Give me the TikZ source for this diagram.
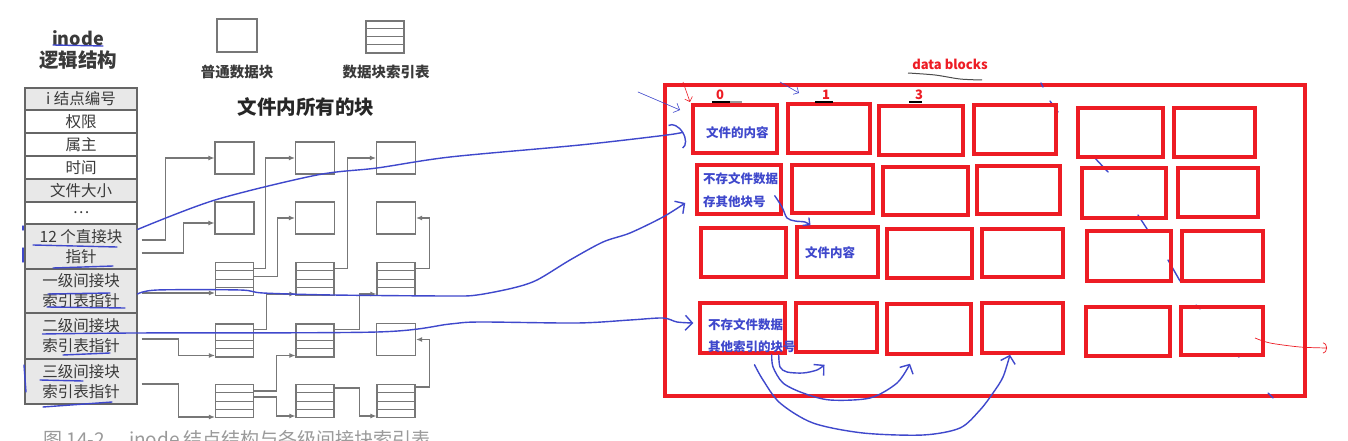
\documentclass[tikz,border=0pt]{standalone}
\usepackage{fontspec}
\setmainfont{Noto Sans CJK SC}
\usetikzlibrary{arrows.meta,calc}
\definecolor{tblline}{HTML}{666666}
\definecolor{tbltext}{HTML}{3A3A3A}
\definecolor{cellgray}{HTML}{E8E8E8}
\definecolor{linkgray}{HTML}{777777}
\definecolor{capgray}{HTML}{9A9A9A}
\definecolor{paintred}{HTML}{ED1C24}
\definecolor{paintblue}{HTML}{3F48CC}
\tikzset{
  cell/.style={draw=tblline,line width=1.1pt,minimum width=112,inner sep=0pt,align=center,
    text=tbltext,font=\fontsize{15.5}{20}\selectfont},
  blk/.style={draw=linkgray,line width=1.2pt,fill=white,minimum width=39,minimum height=32,inner sep=0pt},
  idx/.style={blk,minimum width=38,minimum height=33,
    path picture={\foreach \k in {1,2,3}
      \draw[linkgray,line width=1pt]
        ($(path picture bounding box.north west)!\k/4!(path picture bounding box.south west)$) --
        ($(path picture bounding box.north east)!\k/4!(path picture bounding box.south east)$);}},
  link/.style={draw=linkgray,line width=1.1pt,-{Latex[length=6pt,width=5pt]}},
  lab/.style={text=tbltext,font=\fontsize{14.5}{16}\selectfont\bfseries},
  rbox/.style={draw=paintred,line width=3.5pt,inner sep=0pt},
  ann/.style={draw=paintblue,line width=1.4pt,line cap=round,line join=round},
  annarr/.style={ann,-{Straight Barb[length=7pt,width=15pt]}},
  btxt/.style={text=paintblue,font=\fontsize{12.5}{23}\selectfont\bfseries,inner sep=0pt,anchor=west,align=left},
  numlab/.style={text=paintred,font=\fontsize{13}{15}\selectfont\bfseries,inner sep=0pt},
}
\begin{document}
\begin{tikzpicture}[x=1pt,y=-1pt]
\path[use as bounding box,fill=white] (0,0) rectangle (1348,441);

% inode table
\node[text=tbltext,font=\fontsize{18}{20}\selectfont\bfseries] (inode) at (78,38) {inode};
\node[text=tbltext,font=\fontsize{19.5}{22}\selectfont\bfseries] (logic) at (78,60) {逻辑结构};
\foreach \n/\yc/\h/\c/\t in {
  r1/99/22/cellgray/{i 结点编号},
  r2/121.5/23/white/权限,
  r3/144.5/23/white/属主,
  r4/167.5/23/white/时间,
  r5/190.5/23/cellgray/文件大小,
  r6/213/22/white/{\ldots},
  r7/246.5/45/cellgray/{12 个直接块\\指针},
  r8/291/44/cellgray/{一级间接块\\索引表指针},
  r9/336/46/cellgray/{二级间接块\\索引表指针},
  r10/381.5/45/cellgray/{三级间接块\\索引表指针}}
  \node[cell,fill=\c,minimum height=\h] (\n) at (81,\yc) {\t};

% legend
\node[blk,minimum width=40,minimum height=33] (legblk) at (237,35.5) {};
\node[idx,minimum height=32] (legidx) at (385,37) {};
\node[lab] (leglab1) at (237,72) {普通数据块};
\node[lab] (leglab2) at (386,72) {数据块索引表};
\node[text=black!85,font=\fontsize{19.5}{22}\selectfont\bfseries] (allblk) at (306,107) {文件内所有的块};

% all blocks of the file
\node[blk] (b11) at (234.5,158) {};
\node[blk] (b12) at (315,158) {};
\node[blk] (b13) at (396,158) {};
\node[blk] (b21) at (234.5,218) {};
\node[blk] (b22) at (315,218) {};
\node[blk] (b23) at (396,218) {};
\node[idx] (i31) at (234.5,279) {};
\node[idx] (i32) at (315,279) {};
\node[idx] (i33) at (396,279) {};
\node[idx] (i41) at (234.5,340.5) {};
\node[idx] (i42) at (315,340.5) {};
\node[blk] (b43) at (396,339.5) {};
\node[idx] (i51) at (234.5,401) {};
\node[idx] (i52) at (315,401) {};
\node[idx] (i53) at (396,401) {};

\draw[link] ([xshift=4pt,yshift=6.5pt]r7.east) -| ([xshift=-49pt]b11.west) -- (b11.west);
\draw[link] ([xshift=4pt,yshift=-6.5pt]r7.east) -| ([xshift=-31pt,yshift=-5pt]b21.west) -- ([yshift=-5pt]b21.west);
\draw[link] ([yshift=10.5pt]i31.east) -| ([xshift=-29pt]b12.west) -- (b12.west);
\draw[link] ([yshift=2.5pt]i31.east) -| ([xshift=-17pt]b22.west) -- (b22.west);
\draw[link] ([yshift=10.5pt]i32.east) -| ([xshift=-28pt]b13.west) -- (b13.west);
\draw[link] ([yshift=10.5pt]i33.east) -| ([xshift=13pt]b23.east) -- (b23.east);
\draw[link] ([xshift=4pt,yshift=-2pt]r8.east) -- ([yshift=-14pt]i31.west);
\draw[link] ([yshift=11pt]i41.east) -| ([xshift=-29pt,yshift=-15pt]i32.west) -- ([yshift=-15pt]i32.west);
\draw[link] ([yshift=11pt]i42.east) -| ([xshift=-17pt,yshift=-15pt]i33.west) -- ([yshift=-15pt]i33.west);
\draw[link] ([xshift=4pt,yshift=-3pt]r9.east) -| ([xshift=-36pt,yshift=-15pt]i41.west) -- ([yshift=-15pt]i41.west);
\draw[link] ([yshift=10pt]i51.east) -| ([xshift=-19pt,yshift=-15pt]i42.west) -- ([yshift=-15pt]i42.west);
\draw[link] ([yshift=4pt]i51.east) -| ([xshift=-19pt,yshift=-15pt]i52.west) -- ([yshift=-15pt]i52.west);
\draw[link] ([yshift=13pt]i52.east) -| ([xshift=-17pt,yshift=-15pt]i53.west) -- ([yshift=-15pt]i53.west);
\draw[link] ([yshift=14pt]i53.east) -| ([xshift=13pt]b43.east) -- (b43.east);
\draw[link] ([xshift=4pt,yshift=-2.5pt]r10.east) -| ([xshift=-36pt,yshift=-16pt]i51.west) -- ([yshift=-16pt]i51.west);

\node[text=capgray,font=\fontsize{19}{21}\selectfont,anchor=west] (cap) at (40,439) {图 14-2\hspace{24pt}inode 结点结构与各级间接块索引表};

% data blocks
\node[rbox,minimum width=640,minimum height=311] (dall) at (985,240.5) {};
\foreach \xa/\ya/\xb/\yb in {1041/83/1043/87,1050/101/1058/112,1077/135/1079/138,1093/156/1108/172,
  1138/215/1149/232,1168/260/1180/281,1196/305/1200/309,1235/354/1239/357,1268/393/1273/398}
  \draw[ann] (\xa,\ya) -- (\xb,\yb);
\foreach \n/\xc/\yc/\w/\h in {
  d11/735/129/84/48, d12/829/128.5/82/49, d13/921/130.5/84/49, d14/1015/129.5/82/49, d15/1120.5/132.5/85/49, d16/1214.5/132.5/81/49,
  d21/739/189.5/84/49, d22/832.5/189/81/48, d23/925.5/191/85/48, d24/1018.5/190/83/48, d25/1124/193/84/50, d26/1218/192.5/80/49,
  d31/743.5/252.5/85/49, d32/837.5/252/81/50, d33/929.5/253.5/85/49, d34/1022.5/253/81/48, d35/1129/256/84/50, d36/1222.5/256/81/50,
  d41/742.5/328/85/50, d42/836.5/327.5/81/49, d43/929/329/84/50, d44/1022.5/328/81/50, d45/1128/331.5/84/49, d46/1222/331/82/48}
  \node[rbox,minimum width=\w,minimum height=\h] (\n) at (\xc,\yc) {};

\node[numlab] (dtitle) at (950,64) {data blocks};
\draw[black!70,line width=1pt] plot[smooth] coordinates {(908,73) (935,75) (960,79) (982,80)};
\node[numlab] (n0) at (720,95) {0};
\node[numlab] (n1) at (826,95) {1};
\node[numlab] (n3) at (919,95) {3};
\draw[black,line width=1.2pt] (712,102) -- (730,102);
\draw[black!40,line width=1.2pt] (730,102) -- (742,102);
\draw[black,line width=1.2pt] (815,102) -- (833,102);
\draw[black,line width=1.2pt] (909,102) -- (922,102);

\node[btxt] (t11) at (706,133) {文件的内容};
\node[btxt] (t21) at (703,190) {不存文件数据\\存其他块号};
\node[btxt] (t32) at (805,253) {文件内容};
\node[btxt,font=\fontsize{12.5}{22}\selectfont\bfseries] (t41) at (708,336) {不存文件数据\\其他索引的块号};

% hand annotations
\foreach \xa/\ya/\xb/\yb in {53/45/103/46,33/245/117/247,53/268/113/266,23/226/23/230,23/248/23/262,
  48/294/110/293,47/307/125/308,63/355/110/353,40/380/83/381,24/365/26/392,43/407/112/402}
  \draw[ann] (\xa,\ya) -- (\xb,\yb);
\draw[ann,-{Arc Barb[length=9pt,width=28pt]}] plot[smooth] coordinates {([yshift=-6pt]r7.north east) (215,200) (317,175) (377,168) (450,157) (580,145) (667,135) ([xshift=-8pt,yshift=-3pt]d11.west)};
\draw[annarr] plot[smooth] coordinates {([yshift=-3pt]r8.east) (157,290) (240,290) (263,293) (333,295) (450,296) (477,295) (513,288) (537,280) (570,260) (603,242) (630,233) (663,217) ([xshift=-10pt,yshift=-13.5pt]d21.west)};
\draw[annarr] plot[smooth] coordinates {([xshift=18pt,yshift=2pt]r9.west) (133,333) (377,332) (450,324) (480,322) (577,323) (630,320) (663,318) (677,322) ([xshift=-5pt,yshift=5pt]d41.west)};
\draw[ann,-{Straight Barb[length=5pt,width=10pt]}] plot[smooth] coordinates {([xshift=-8pt,yshift=20pt]d21.south east) (782,207) (787,218) (795,221) (805,222) ([xshift=-27pt]d32.north)};
\draw[annarr] plot[smooth] coordinates {([xshift=-8pt]d41.south east) (780,367) (787,372) (803,373) (817,370) ([xshift=-12pt,yshift=-11pt]d42.south)};
\draw[annarr] plot[smooth] coordinates {([xshift=-15pt]d41.south east) (773,367) (783,383) (803,393) (830,400) (870,398) (897,383) ([xshift=-19pt,yshift=-8pt]d43.south)};
\draw[annarr] plot[smooth] coordinates {([xshift=12pt,yshift=-10pt]d41.south) (763,380) (780,403) (813,423) (863,433) (923,435) (960,428) (980,410) (993,393) (1003,377) ([xshift=-12.5pt]d44.south)};
\draw[ann,line width=0.6pt,-{Straight Barb[length=5pt,width=10pt]}] (638,92) -- (680,110);
\draw[ann,line width=0.6pt,-{Straight Barb[length=4pt,width=8pt]}] (780,82) -- (799,93);
\draw[paintred,line width=0.6pt,-{Straight Barb[length=4pt,width=8pt]}] (683,82) -- (690,102);
\draw[paintred,line width=0.7pt,-{Arc Barb[length=4pt,width=11pt]}] plot[smooth] coordinates {(1255,338) (1270,343) (1300,347) (1327,348)};
\end{tikzpicture}
\end{document}
